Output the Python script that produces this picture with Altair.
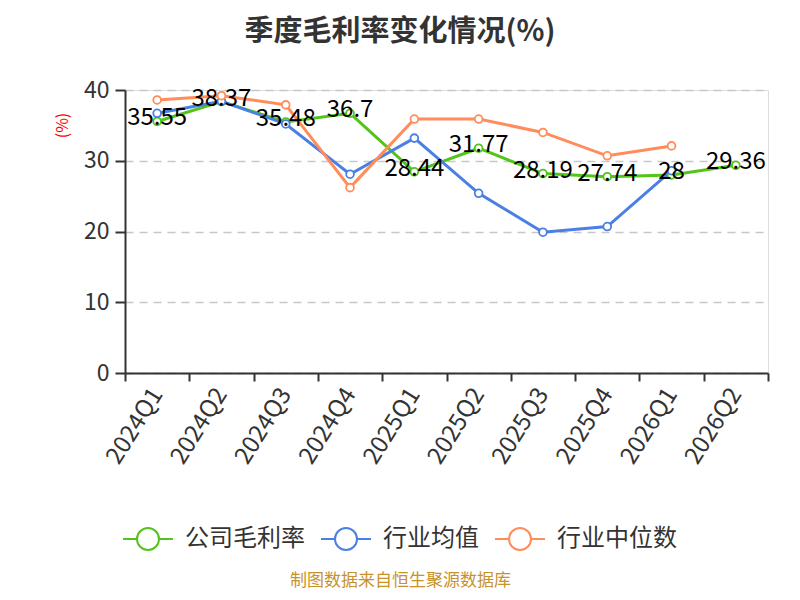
import altair as alt
import pandas as pd

quarters = ["2024Q1", "2024Q2", "2024Q3", "2024Q4", "2025Q1", "2025Q2",
            "2025Q3", "2025Q4", "2026Q1", "2026Q2"]
company = [35.55, 38.37, 35.48, 36.7, 28.44, 31.77, 28.19, 27.74, 28, 29.36]
ind_avg = [36.7, 38.4, 35.2, 28.1, 33.2, 25.4, 19.9, 20.7, 28.6, None]
ind_med = [38.6, 39.2, 37.9, 26.2, 35.9, 35.9, 34.0, 30.7, 32.1, None]

series_names = ["公司毛利率", "行业均值", "行业中位数"]
series_colors = ["#52c41a", "#4a7fe3", "#ff8c5a"]

rows = []
for name, vals in zip(series_names, [company, ind_avg, ind_med]):
    for q, v in zip(quarters, vals):
        if v is not None:
            rows.append({"quarter": q, "series": name, "value": v,
                         "label": f"{v:g}"})
df = pd.DataFrame(rows)

FONT = "Noto Sans CJK SC"

legend_path = ("M-1,0H-0.44M0.44,0H1M0.44,0A0.44,0.44,0,1,1,-0.44,0"
               "A0.44,0.44,0,1,1,0.44,0Z")

x_enc = alt.X(
    "quarter:N",
    sort=quarters,
    scale=alt.Scale(type="band", paddingInner=0, paddingOuter=0),
    axis=alt.Axis(
        title="制图数据来自恒生聚源数据库",
        titleColor="#c8922a",
        titleFont=FONT,
        titleFontSize=17,
        titleFontWeight="normal",
        titleX=275,
        titleY=207,
        titleAlign="center",
        titleBaseline="middle",
        labelAngle=-58,
        labelAlign="right",
        labelBaseline="middle",
        labelFontSize=24,
        labelColor="#333333",
        labelFont=FONT,
        labelPadding=9,
        tickBand="extent",
        tickSize=8,
        tickColor="#333333",
        tickWidth=2,
        domainColor="#333333",
        domainWidth=2,
        grid=False,
    ),
)

y_enc = alt.Y(
    "value:Q",
    scale=alt.Scale(domain=[0, 40], nice=False),
    axis=alt.Axis(
        values=[0, 10, 20, 30, 40],
        title="(%)",
        titleColor="red",
        titleFont=FONT,
        titleFontSize=16,
        titleFontWeight="normal",
        titleAngle=-90,
        titleX=-63,
        titleY=35,
        titleAlign="center",
        titleBaseline="middle",
        labelFontSize=23,
        labelColor="#333333",
        labelFont=FONT,
        labelPadding=6,
        tickSize=10,
        tickColor="#333333",
        tickWidth=2,
        domainColor="#333333",
        domainWidth=2,
        grid=True,
        gridColor="#c8c8c8",
        gridDash=[8, 6],
        gridWidth=1.5,
    ),
)

color_enc = alt.Color(
    "series:N",
    sort=series_names,
    scale=alt.Scale(domain=series_names, range=series_colors),
    legend=alt.Legend(
        title=None,
        orient="none",
        direction="horizontal",
        legendX=-3,
        legendY=423,
        padding=0,
        symbolType=legend_path,
        symbolSize=2500,
        symbolStrokeWidth=2,
        symbolFillColor="white",
        labelFont=FONT,
        labelFontSize=24,
        labelColor="#333333",
        labelOffset=11,
        columnPadding=12,
    ),
)

base = alt.Chart(df).encode(x=x_enc, y=y_enc)

lines = base.mark_line(strokeWidth=3).encode(color=color_enc)

points = base.mark_point(filled=True, fill="white", size=60, strokeWidth=1.8,
                         opacity=1).encode(
    stroke=alt.Stroke("series:N",
                      scale=alt.Scale(domain=series_names, range=series_colors),
                      legend=None)
)

labels = base.transform_filter(alt.datum.series == "公司毛利率").mark_text(
    fontSize=24, font=FONT, color="black", baseline="middle", dy=-3
).encode(text="label:N")

chart = alt.layer(lines, points, labels).properties(
    width=643,
    height=283,
    autosize=alt.AutoSizeParams(type="none"),
    padding={"left": 117, "top": 82, "right": 24, "bottom": 219},
    title=alt.TitleParams(
        text="季度毛利率变化情况(%)",
        font=FONT,
        fontSize=29,
        fontWeight="bold",
        color="#333333",
        anchor="middle",
        dx=-46.5,
        offset=18,
        baseline="middle",
    ),
).configure_view(stroke=None).configure(background="white")

chart.save("out.html", embed_options={"renderer": "svg", "actions": False})
